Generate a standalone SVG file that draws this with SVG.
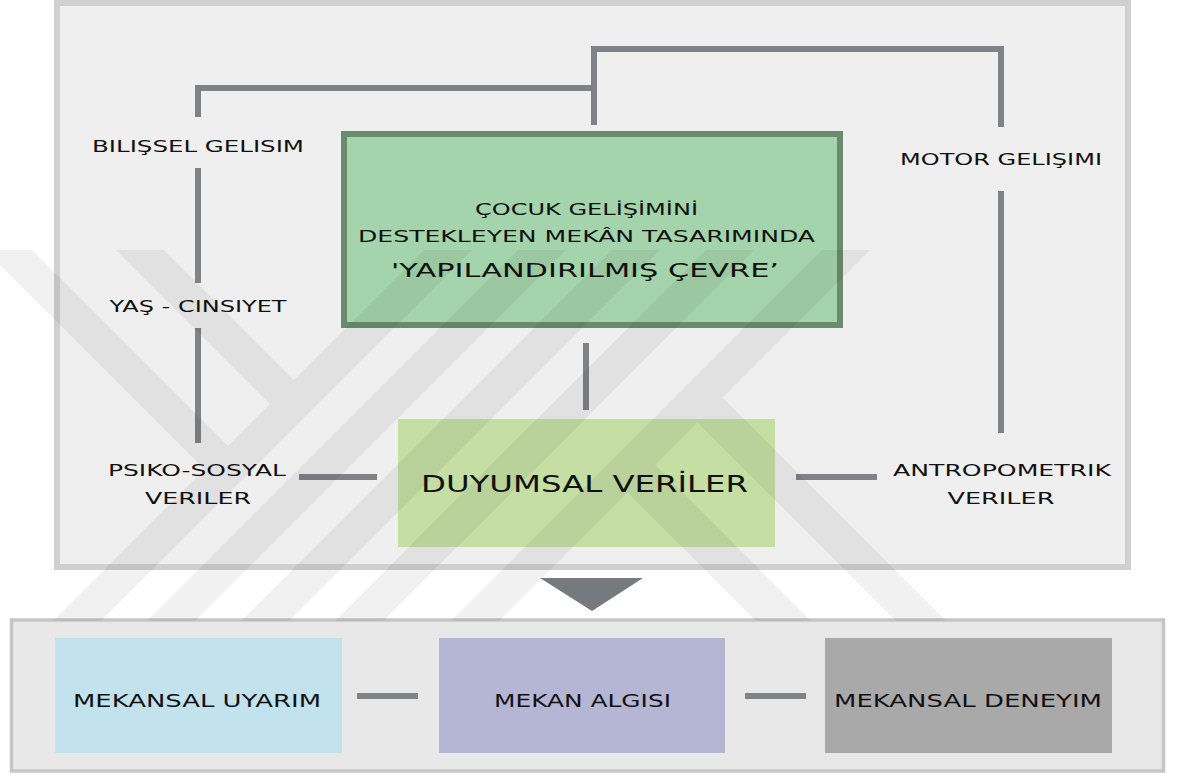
<svg xmlns="http://www.w3.org/2000/svg" width="1177" height="774" viewBox="0 0 1177 774">
<style>
  .lbl{font-family:"DejaVu Sans","Liberation Sans",sans-serif;fill:#111;}
  .s{font-size:16.5px}
  .m{font-size:16px}
  .b{font-size:18px}
  .con{stroke:#808287;stroke-width:6;fill:none;stroke-linecap:butt;stroke-linejoin:miter}
  .wm{fill:#000;fill-opacity:0.055}
</style>
<defs>
  <clipPath id="wmclip"><rect x="0" y="250" width="1177" height="371"/></clipPath>
</defs>
<rect width="1177" height="774" fill="#ffffff"/>
<g id="panel-top"><rect x="57" y="3" width="1071" height="564" fill="#efefef" stroke="#d0d0d0" stroke-width="6"/></g>
<g id="panel-bottom"><rect x="11.5" y="620" width="1152" height="151" fill="#e8e8e8" stroke="#c6c6c6" stroke-width="3.5"/></g>

<g id="connectors">
  <path class="con" d="M198,117 V88 H594"/>
  <path class="con" d="M594,125 V49 H1001 V127"/>
  <line class="con" x1="198" y1="168" x2="198" y2="283"/>
  <line class="con" x1="198" y1="328" x2="198" y2="443"/>
  <line class="con" x1="1001" y1="191" x2="1001" y2="433"/>
  <line class="con" x1="586" y1="343" x2="586" y2="410"/>
  <line class="con" x1="299" y1="477" x2="377" y2="477"/>
  <line class="con" x1="796" y1="477" x2="877" y2="477"/>
  <line class="con" x1="357" y1="696" x2="418" y2="696"/>
  <line class="con" x1="745" y1="696" x2="806" y2="696"/>
  <polygon points="540,578 643,578 592,611" fill="#76797d"/>
</g>

<g id="node-main">
  <rect x="344" y="134" width="496" height="191" fill="#a4d4ab" stroke="#6b8b6e" stroke-width="6"/>
  <text class="lbl m" x="475" y="215" textLength="223" lengthAdjust="spacingAndGlyphs">ÇOCUK GELİŞİMİNİ</text>
  <text class="lbl m" x="358" y="242" textLength="457" lengthAdjust="spacingAndGlyphs">DESTEKLEYEN MEKÂN TASARIMINDA</text>
  <text class="lbl" font-size="19.5" x="391" y="277" textLength="388" lengthAdjust="spacingAndGlyphs">'YAPILANDIRILMIŞ ÇEVRE’</text>
</g>

<g id="node-bilissel"><text class="lbl s" x="92" y="152" textLength="212" lengthAdjust="spacingAndGlyphs">BILIŞSEL GELISIM</text></g>
<g id="node-yas"><text class="lbl s" x="109.5" y="312" textLength="177" lengthAdjust="spacingAndGlyphs">YAŞ - CINSIYET</text></g>
<g id="node-motor"><text class="lbl s" x="900" y="165" textLength="202" lengthAdjust="spacingAndGlyphs">MOTOR GELIŞIMI</text></g>
<g id="node-psiko">
  <text class="lbl s" x="108" y="476" textLength="178" lengthAdjust="spacingAndGlyphs">PSIKO-SOSYAL</text>
  <text class="lbl s" x="145" y="504" textLength="106" lengthAdjust="spacingAndGlyphs">VERILER</text>
</g>
<g id="node-antropometrik">
  <text class="lbl s" x="893" y="476" textLength="218" lengthAdjust="spacingAndGlyphs">ANTROPOMETRIK</text>
  <text class="lbl s" x="947.5" y="504" textLength="107" lengthAdjust="spacingAndGlyphs">VERILER</text>
</g>
<g id="node-duyumsal">
  <rect x="398" y="419" width="377" height="128" fill="#c4dea4"/>
  <text class="lbl" font-size="23" x="421" y="492" textLength="327" lengthAdjust="spacingAndGlyphs">DUYUMSAL VERİLER</text>
</g>
<g id="node-uyarim">
  <rect x="55" y="638" width="287" height="115" fill="#c2e2ed"/>
  <text class="lbl b" x="73" y="707" textLength="248" lengthAdjust="spacingAndGlyphs">MEKANSAL UYARIM</text>
</g>
<g id="node-algi">
  <rect x="439" y="638" width="286" height="115" fill="#b5b6d4"/>
  <text class="lbl b" x="494" y="707" textLength="177" lengthAdjust="spacingAndGlyphs">MEKAN ALGISI</text>
</g>
<g id="node-deneyim">
  <rect x="825" y="638" width="287" height="115" fill="#aaa9aa"/>
  <text class="lbl b" x="834" y="707" textLength="268" lengthAdjust="spacingAndGlyphs">MEKANSAL DENEYIM</text>
</g>

<g id="watermark" clip-path="url(#wmclip)">
  <polygon class="wm" points="-15,250 32,250 228,446 204.5,469.5"/>
  <polygon class="wm" points="116,250 164,250 294,380 270,404"/>
  <polygon class="wm" points="424,250 472,250 101,621 53,621"/>
  <polygon class="wm" points="518,250 566,250 195,621 147,621"/>
  <polygon class="wm" points="612,250 660,250 289,621 241,621"/>
  <polygon class="wm" points="706,250 754,250 383,621 335,621"/>
  <polygon class="wm" points="822,250 870,250 499,621 451,621"/>
  <polygon class="wm" points="722.5,397.5 946,621 896,621 697.5,422.5"/>
  <polygon class="wm" points="655,465 811,621 756,621 627.5,492.5"/>
</g>
</svg>
